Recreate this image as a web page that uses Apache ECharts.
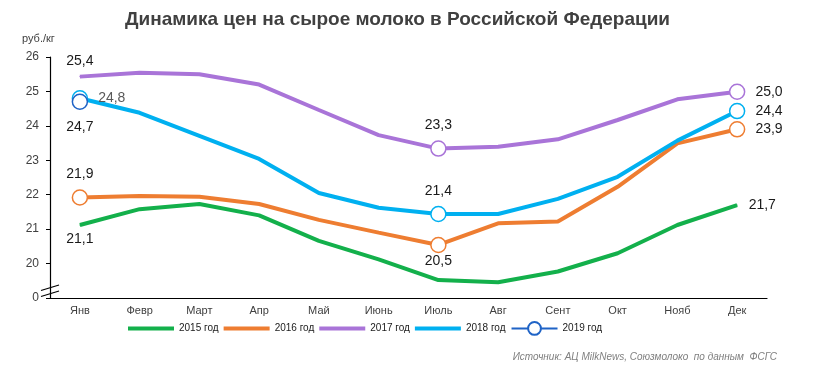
<!DOCTYPE html>
<html>
<head>
<meta charset="utf-8">
<script src="https://cdn.jsdelivr.net/npm/echarts@6/dist/echarts.min.js"></script>
<style>
html,body{margin:0;padding:0;background:#fff;}
#chart{width:823px;height:378px;}
</style>
</head>
<body>
<div id="chart"></div>
<script>
const titleText = 'Динамика цен на сырое молоко в Российской Федерации';
const unitText = 'руб./кг';
const sourceText = 'Источник: АЦ MilkNews, Союзмолоко  по данным  ФСГС';
const months = ['Янв','Февр','Март','Апр','Май','Июнь','Июль','Авг','Сент','Окт','Нояб','Дек'];
const seriesNames = ['2015 год','2016 год','2017 год','2018 год','2019 год'];
const y2015 = [21.12,21.58,21.73,21.40,20.66,20.12,19.52,19.46,19.77,20.30,21.12,21.70];
const y2016 = [21.92,21.96,21.94,21.73,21.27,20.90,20.54,21.17,21.22,22.23,23.49,23.90];
const y2017 = [25.43,25.54,25.50,25.20,24.46,23.73,23.34,23.39,23.61,24.17,24.77,24.99];
const y2018 = [24.80,24.38,23.71,23.04,22.05,21.62,21.44,21.44,21.88,22.52,23.57,24.43];
const y2019 = [24.70,null,null,null,null,null,null,null,null,null,null,null];
// axis break: the bottom tick (19) is shown as 0
const yTickLabels = {19:'0',20:'20',21:'21',22:'22',23:'23',24:'24',25:'25',26:'26'};

// which points carry a marker / a value label: [index, labelPosition, hasMarker]
const marks2015 = [[0,'bottom',false],[11,'right',false]];
const marks2016 = [[0,'top',true],[6,'bottom',true],[11,'right',true]];
const marks2017 = [[0,'top',false],[6,'top',true],[11,'right',true]];
const marks2018 = [[0,'right',true],[6,'top',true],[11,'right',true]];
const marks2019 = [[0,'bottom',true]];

const colors = ['#13B04B','#EE7D31','#A974D8','#00B0F0','#1F63C6'];
const fmt = v => v.toFixed(1).replace('.', ',');

function build(values, marks, color, labelColor) {
  return values.map((v, i) => {
    const m = marks.find(x => x[0] === i);
    if (v === null) return null;
    if (!m) return {value: v, symbol: 'none'};
    const pos = m[1];
    let dist = 8;
    if (pos === 'right') dist = m[2] ? 10 : 11;
    if (pos === 'bottom') dist = m[2] ? (i === 6 ? 1 : 10) : 7;
    return {
      value: v,
      symbol: 'circle',
      symbolSize: m[2] ? 15 : 1,
      itemStyle: m[2] ? {color: '#fff', borderColor: color, borderWidth: 1.5}
                      : {color: color, borderWidth: 0},
      label: {show: true, position: pos, distance: dist,
              formatter: p => fmt(p.value),
              color: (labelColor && i === 0) ? labelColor : '#1a1a1a',
              fontSize: 14, fontFamily: 'Liberation Sans, Arial'}
    };
  });
}

const seriesData = [
  build(y2015, marks2015, colors[0]),
  build(y2016, marks2016, colors[1]),
  build(y2017, marks2017, colors[2]),
  build(y2018, marks2018, colors[3], '#595959'),
  build(y2019, marks2019, colors[4])
];

const chart = echarts.init(document.getElementById('chart'), null, {renderer: 'canvas'});
const series = seriesNames.map((name, k) => ({
  name: name,
  type: 'line',
  data: seriesData[k],
  symbol: k === 4 ? 'circle' : 'none',
  symbolSize: 15,
  showSymbol: true,
  showAllSymbol: true,
  connectNulls: false,
  lineStyle: {color: colors[k], width: 4},
  itemStyle: {color: '#fff', borderColor: colors[k], borderWidth: 1.5},
  emphasis: {disabled: true},
  animation: false,
  z: 2 + k
}));

const legendData = seriesNames.map((name, k) => k < 4
  ? {name: name, icon: 'path://M0,0H46V4H0Z', itemStyle: {color: colors[k], borderWidth: 0}}
  : {name: name});

chart.setOption({
  animation: false,
  textStyle: {fontFamily: 'Liberation Sans, Arial'},
  title: {
    text: titleText, left: 120, top: 5,
    textStyle: {fontSize: 19, fontWeight: 'bold', color: '#404040', fontFamily: 'Liberation Sans, Arial'}
  },
  legend: {
    data: legendData, left: 123, top: 316,
    itemWidth: 46, itemHeight: 16, itemGap: 5,
    textStyle: {fontSize: 10, color: '#1a1a1a'},
    selectedMode: false
  },
  grid: {left: 50, right: 56, top: 57, bottom: 80},
  xAxis: {
    type: 'category', data: months, boundaryGap: true,
    axisLine: {lineStyle: {color: '#000', width: 1.2}},
    axisTick: {show: false},
    axisLabel: {fontSize: 11, color: '#404040', margin: 7}
  },
  yAxis: {
    type: 'value', min: 19, max: 26, interval: 1,
    splitLine: {show: false},
    axisLine: {show: true, lineStyle: {color: '#000', width: 1.2}},
    axisTick: {show: true, length: 4, lineStyle: {color: '#000'}},
    axisLabel: {fontSize: 12, color: '#404040', margin: 11,
                formatter: v => yTickLabels[v] !== undefined ? yTickLabels[v] : ''}
  },
  graphic: [
    {type: 'text', left: 22, top: 33, style: {text: unitText, fontSize: 11, fill: '#404040', fontFamily: 'Liberation Sans, Arial'}},
    {type: 'line', shape: {x1: 41, y1: 290.5, x2: 59, y2: 285}, style: {stroke: '#000', lineWidth: 1.3}, z: 10},
    {type: 'line', shape: {x1: 41, y1: 296.5, x2: 59, y2: 291}, style: {stroke: '#000', lineWidth: 1.3}, z: 10},
    {type: 'text', right: 46, top: 352, style: {text: sourceText, fontSize: 10, fontStyle: 'italic', fill: '#7f7f7f', fontFamily: 'Liberation Sans, Arial'}}
  ],
  series: series
});
</script>
</body>
</html>
